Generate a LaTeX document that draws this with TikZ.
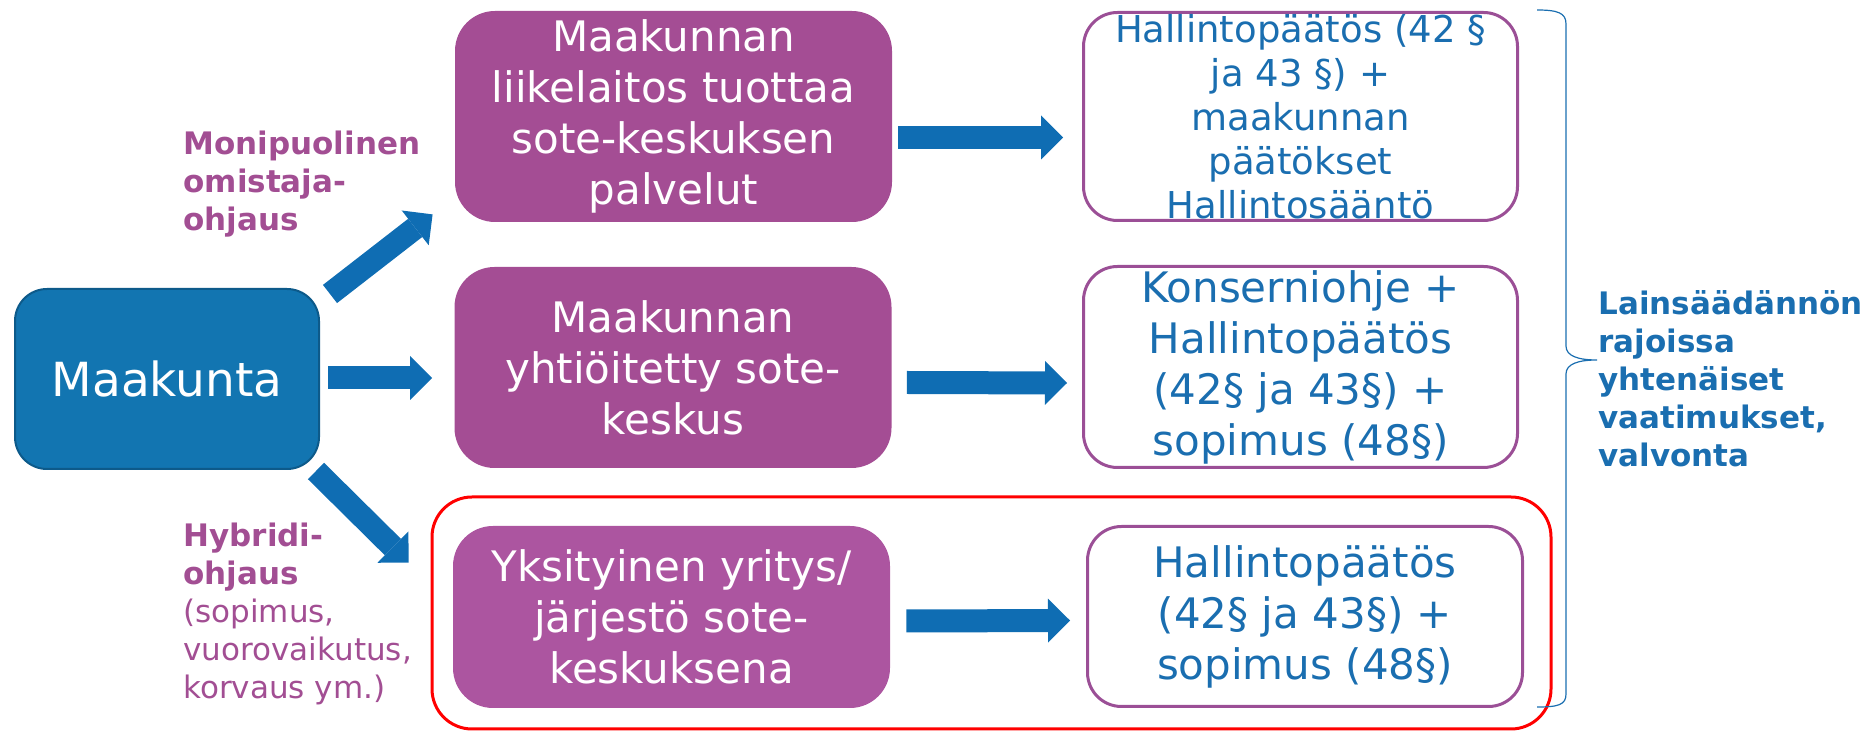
\documentclass[tikz,border=0pt]{standalone}
\usepackage{fontspec}
\setmainfont{DejaVu Sans}
\usepackage{tikz}
\usetikzlibrary{arrows.meta, calc}
\definecolor{viola}{HTML}{A44D94}
\definecolor{violachiaro}{HTML}{AC55A0}
\definecolor{bordoviola}{HTML}{9B4F96}
\definecolor{blu}{HTML}{1275B1}
\definecolor{blubordo}{HTML}{0D5A8A}
\definecolor{blufreccia}{HTML}{0F6DB3}
\definecolor{blutesto}{HTML}{1A6EB0}
\definecolor{etichetta}{HTML}{A24E93}

\begin{document}
\begin{tikzpicture}[x=0.5pt, y=-0.5pt,
    boxviola/.style={rounded corners=20pt, fill=viola, text=white, align=center, inner sep=0pt, minimum width=218.5pt, font=\fontsize{21pt}{25.5pt}\selectfont},
    boxbianco/.style={rounded corners=17pt, draw=bordoviola, line width=1.5pt, text=blutesto, align=center, inner sep=0pt, minimum width=217pt, font=\fontsize{21pt}{25.5pt}\selectfont},
    freccia/.style={blufreccia, line width=11.5pt, -{Triangle[length=11pt, width=22pt, line width=0pt]}},
    etich/.style={etichetta, align=left, inner sep=0pt, anchor=base west, font=\fontsize{15.5pt}{19pt}\selectfont}
    ]
    \useasboundingbox (0,0) rectangle (1870,731);

    % Maakunta
    \node[rounded corners=16pt, fill=blu, draw=blubordo, line width=1pt, text=white, minimum width=152pt, minimum height=90pt, font=\fontsize{23.5pt}{28pt}\selectfont] (maakunta) at (167,379) {Maakunta};

    % Riquadri viola
    \node[boxviola, minimum height=105.5pt] (liikelaitos) at (673.5,116.5) {Maakunnan\\liikelaitos tuottaa\\sote-keskuksen\\palvelut};
    \node[boxviola, minimum height=100.5pt] (yhtio) at (673,367.5) {Maakunnan\\yhtiöitetty sote-\\keskus};
    \node[boxviola, fill=violachiaro, minimum height=91pt] (yksityinen) at (671.5,617) {Yksityinen yritys/\\järjestö sote-\\keskuksena};

    % Riquadri bianchi
    \node[boxbianco, minimum height=104pt, inner ysep=-8pt, font=\fontsize{18.5pt}{22pt}\selectfont] (paatos1) at (1300.5,116.5) {Hallintopäätös (42 §\\ja 43 §) +\\maakunnan\\päätökset\\Hallintosääntö};
    \node[boxbianco, minimum height=100.5pt] (paatos2) at (1300.5,367) {Konserniohje +\\Hallintopäätös\\(42§ ja 43§) +\\sopimus (48§)};
    \node[boxbianco, minimum height=90pt, minimum width=217.5pt] (paatos3) at (1305,616.5) {Hallintopäätös\\(42§ ja 43§) +\\sopimus (48§)};

    % Cornice rossa
    \draw[red, line width=1.5pt, rounded corners=20pt] (432,497) rectangle (1551,729);

    % Frecce
    \draw[freccia] ($(maakunta.north east)+(10,6)$) -- ($(liikelaitos.south west)+(-22,-8)$);
    \draw[freccia] ($(maakunta.east)+(8,-1)$) -- ($(maakunta.east -| yhtio.west)+(-22,-1)$);
    \draw[freccia] ($(maakunta.south east)+(-4,1)$) -- ($(yksityinen.north west)+(-44,37)$);
    \draw[freccia] ($(liikelaitos.east)+(6,21)$) -- ($(paatos1.west)+(-19,21)$);
    \draw[freccia] ($(yhtio.east)+(15,15)$) -- ($(paatos2.west)+(-15,16)$);
    \draw[freccia] ($(yksityinen.east)+(16,4)$) -- ($(paatos3.west)+(-16,4)$);

    % Parentesi graffa
    \draw[blutesto, line width=0.6pt] (1537,10) .. controls (1558,10) and (1566,13) .. (1566,24) -- (1566,346) .. controls (1566,356) and (1578,360) .. (1597,360) .. controls (1578,360) and (1566,364) .. (1566,374) -- (1566,694) .. controls (1566,705) and (1558,707) .. (1537,707);

    % Etichette (ancorate all'ultima riga)
    \node[etich, font=\fontsize{15.5pt}{19pt}\selectfont\bfseries] (omistaja) at (183,231) {Monipuolinen\\omistaja-\\ohjaus};
    \node[etich] (hybridi) at (183,699) {\textbf{Hybridi-}\\\textbf{ohjaus}\\(sopimus,\\vuorovaikutus,\\korvaus ym.)};
    \node[etich, blutesto, font=\fontsize{15.5pt}{19pt}\selectfont\bfseries] (laki) at (1598,467) {Lainsäädännön\\rajoissa\\yhtenäiset\\vaatimukset,\\valvonta};
\end{tikzpicture}
\end{document}
